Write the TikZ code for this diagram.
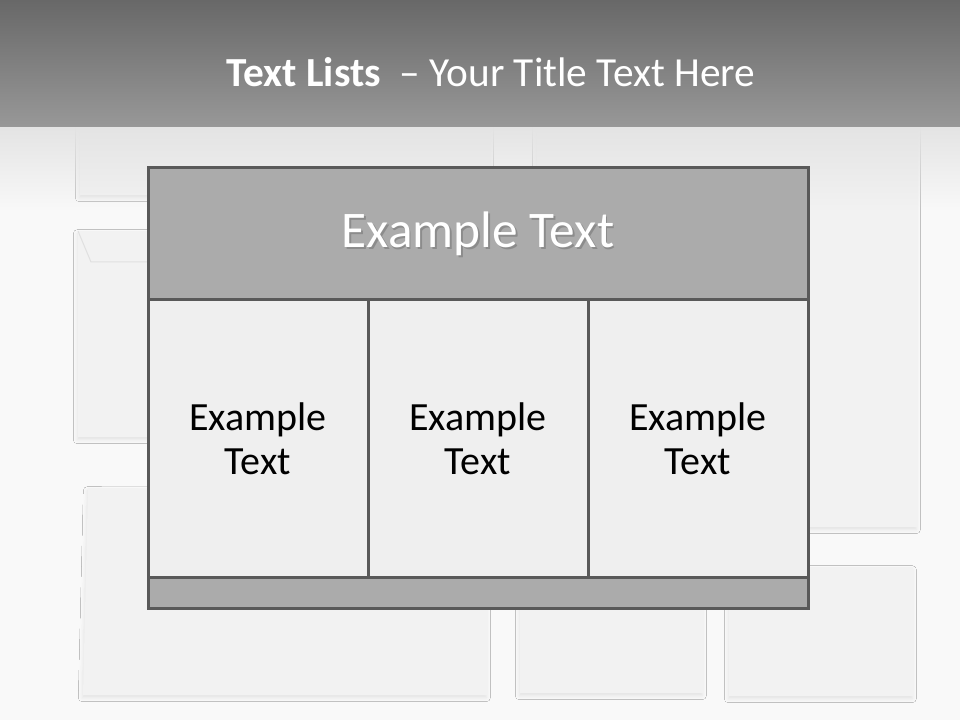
\documentclass[tikz,border=0pt]{standalone}
\usepackage{fontspec}
\setmainfont{Carlito}
\usepackage{xcolor}
\usepackage{tikz}
\usetikzlibrary{positioning,fadings,shadows.blur}
\definecolor{SlideBg}{RGB}{249,249,249}
\definecolor{BandTop}{RGB}{104,104,104}
\definecolor{BandLow}{RGB}{152,152,152}
\definecolor{BandFade}{RGB}{228,228,228}
\definecolor{PaperGray}{RGB}{242,242,242}
\definecolor{PaperEdge}{RGB}{224,224,224}
\definecolor{FrameGray}{RGB}{89,89,89}
\definecolor{HeadGray}{RGB}{171,171,171}
\definecolor{CellGray}{RGB}{239,239,239}
\tikzfading[name=fadedown, top color=transparent!0, bottom color=transparent!100]
\newcommand\shadowtxt[1]{\makebox[0pt][l]{\hspace{1.3pt}\raisebox{-1.3pt}{\textcolor{black!45}{#1}}}#1}
\tikzset{
  paper/.style={fill=PaperGray, blur shadow={shadow xshift=-0.5pt, shadow yshift=-2pt,
    shadow blur radius=3pt, shadow opacity=9}},
  tblbox/.style={draw=FrameGray, line width=2.25pt, inner sep=0pt, align=center},
  headbox/.style={tblbox, fill=HeadGray, minimum width=660pt*0.75, minimum height=132pt*0.75},
  cellbox/.style={tblbox, fill=CellGray, minimum width=220pt*0.75, minimum height=277pt*0.75,
    font=\fontsize{30}{33}\selectfont, text=black},
  footbox/.style={tblbox, fill=HeadGray, minimum width=660pt*0.75, minimum height=31pt*0.75},
  headtxt/.style={font=\fontsize{38.5}{42}\selectfont, text=white, anchor=base, inner sep=0pt},
  titletxt/.style={font=\fontsize{31}{36}\selectfont, text=white, anchor=base, inner sep=0pt},
}

\begin{document}
\begin{tikzpicture}[x=0.75pt, y=-0.75pt]
  \useasboundingbox (0,0) rectangle (960,720);
  \fill[SlideBg] (0,0) rectangle (960,720);
  % papers lying behind the table
  \fill[paper] (80,110) rectangle (490,195);
  \fill[paper] (537,110) rectangle (917,527);
  \fill[paper] (78,231) rectangle (320,437);
  \draw[PaperEdge, line width=0.75pt] (78,231) -- (91,262) -- (320,262);
  \fill[paper] (88,488) -- (487,490) -- (487,695) -- (83,695) -- cycle;
  \fill[paper] (520,540) rectangle (703,693);
  \fill[paper] (729,567) rectangle (913,696);
  % title band
  \fill[BandFade, path fading=fadedown] (0,127) rectangle (960,210);
  \shade[top color=BandTop, bottom color=BandLow] (0,0) rectangle (960,127);
  \node[titletxt] (title) at (491,87) {\textbf{Text Lists}\ \ – Your Title Text Here};
  % table
  \node[headbox] (hdr) at (478,234) {};
  \node[headtxt] (hdrtxt) at (478,248) {\shadowtxt{Example Text}};
  \foreach \k in {1,2,3} {\node[cellbox] (cell\k) at ({148+220*\k-110},438.5) {Example\\Text};}
  \node[footbox] (foot) at (478,592.5) {};
\end{tikzpicture}
\end{document}
